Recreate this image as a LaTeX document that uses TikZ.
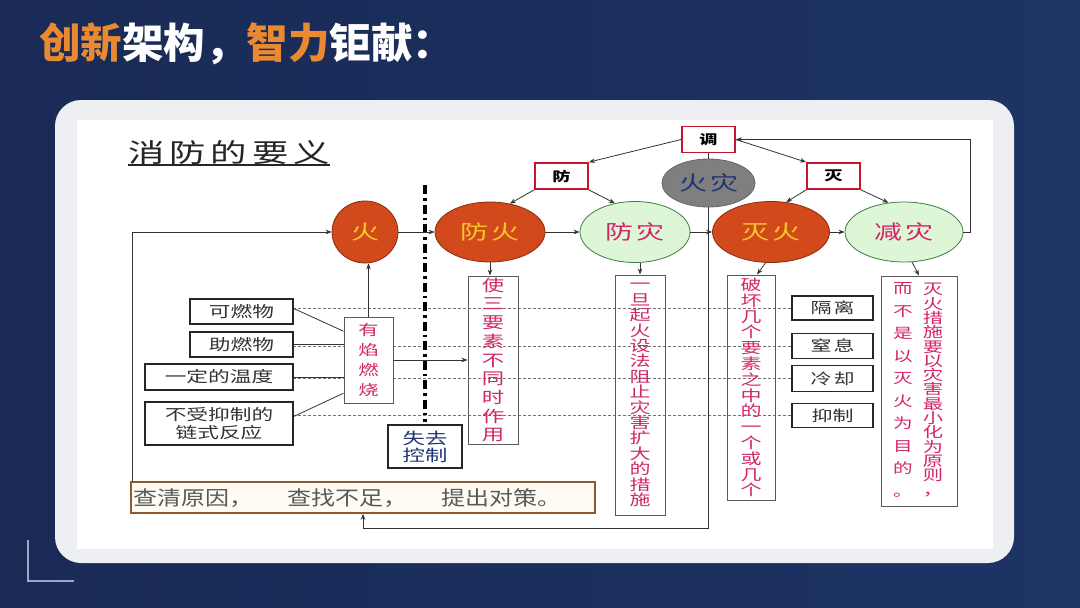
\documentclass[tikz,border=0pt]{standalone}
\usepackage{fontspec}
\usetikzlibrary{shapes.geometric,arrows.meta,calc}
\newfontfamily\cjk{Noto Sans CJK SC}
\newfontfamily\dg[FakeStretch=1.4]{Noto Sans CJK SC}
\newfontfamily\dgn[FakeStretch=1.2]{Noto Sans CJK SC}
\pgfdeclarelayer{bg}
\pgfdeclarelayer{back}
\pgfsetlayers{bg,back,main}
\definecolor{navyl}{HTML}{192A55}
\definecolor{navyr}{HTML}{1D3465}
\definecolor{orng}{HTML}{E98A32}
\definecolor{fire}{HTML}{D2491B}
\definecolor{fireb}{HTML}{8A2C0E}
\definecolor{ylw}{HTML}{F8C52A}
\definecolor{lgreen}{HTML}{DDF6D6}
\definecolor{dgreen}{HTML}{3E7D46}
\definecolor{pnk}{HTML}{D2266A}
\definecolor{redb}{HTML}{C4152F}
\definecolor{ink}{HTML}{333333}
\definecolor{tnavy}{HTML}{1F3573}
\definecolor{cardc}{HTML}{EEEFF2}
\definecolor{brownb}{HTML}{8C5A2E}
\definecolor{cream}{HTML}{FFFAF2}
\definecolor{grayfill}{HTML}{7F7F7F}
\definecolor{cornerc}{HTML}{9AA8C8}
\tikzset{
 conn/.style={draw=ink, line width=0.8pt, -{Stealth[length=6pt,width=4.5pt]}},
 plain/.style={draw=ink, line width=0.8pt},
 dsh/.style={draw=black!55, line width=0.7pt, dash pattern=on 3pt off 2pt},
 divider/.style={draw=black, line width=3.5pt, dash pattern=on 9pt off 4pt on 2.5pt off 4pt},
 fireell/.style={ellipse, draw=fireb, line width=0.8pt, fill=fire, text=ylw, inner sep=0pt, font=\dg\fontsize{20}{22}\selectfont},
 greenell/.style={ellipse, draw=dgreen, line width=0.8pt, fill=lgreen, text=pnk, inner sep=0pt, font=\dg\fontsize{20}{22}\selectfont},
 grayell/.style={ellipse, draw=black!60, line width=0.8pt, fill=grayfill, text=tnavy, inner sep=0pt, font=\dg\fontsize{20}{22}\selectfont},
 redbox/.style={rectangle, draw=redb, line width=1.8pt, fill=white, inner sep=0pt, minimum width=53pt, minimum height=26pt, font=\dg\bfseries\fontsize{13}{15}\selectfont},
 lbox/.style={rectangle, draw=black!85, line width=1.4pt, fill=white, inner sep=0pt, align=center, text=black!80, font=\dg\fontsize{15.5}{18}\selectfont},
 rbox/.style={rectangle, draw=black!85, line width=1.4pt, fill=white, inner sep=0pt, minimum width=81pt, text=black!80, font=\dg\fontsize{15}{17}\selectfont},
 vbox/.style={rectangle, draw=black!65, line width=1pt, inner sep=0pt, align=center, text=pnk},
}
\begin{document}
\begin{tikzpicture}[x=1pt,y=-1pt]
\useasboundingbox (0,0) rectangle (1080,608);
\begin{pgfonlayer}{bg}
 \shade[left color=navyl, right color=navyr] (0,0) rectangle (1080,608);
 \fill[cardc, rounded corners=26pt] (55,100) rectangle (1014,563);
 \fill[white] (77,120) rectangle (993,549);
 \draw[cornerc, line width=1.2pt] (28,540) -- (28,581) -- (74,581);
\end{pgfonlayer}

% slide title
\node[anchor=base west, inner sep=0pt, text=white, font=\cjk\bfseries\fontsize{41.5}{44}\selectfont] (title) at (39,58)
 {\textcolor{orng}{创新}架构，\textcolor{orng}{智力}钜献：};

% diagram title
\node[anchor=south west, inner sep=0pt, text=black!85, font=\dg\fontsize{26}{28}\selectfont] (yaoyi) at (128,165)
 {消\hspace{5pt}防\hspace{5pt}的\hspace{5pt}要\hspace{5pt}义};
\draw[black!85, line width=1.3pt] (yaoyi.south west) -- (yaoyi.south east);

% top boxes
\node[redbox] (diao) at (708.5,139.5) {调};
\node[redbox] (fang) at (561.5,176) {防};
\node[redbox] (mie) at (833.5,176) {灭};

% ellipses
\node[fireell, minimum width=66pt, minimum height=62pt] (huo) at (365,232) {火};
\node[fireell, minimum width=110pt, minimum height=60pt] (fanghuo) at (490,232) {防\hspace{3pt}火};
\node[greenell, minimum width=110pt, minimum height=61pt] (fangzai) at (635,232) {防\hspace{3pt}灾};
\node[grayell, minimum width=93pt, minimum height=48pt] (huozai) at (708.5,183) {火\hspace{3pt}灾};
\node[fireell, minimum width=117pt, minimum height=61pt] (miehuo) at (771,232) {灭\hspace{3pt}火};
\node[greenell, minimum width=118pt, minimum height=60pt] (jianzai) at (904,232) {减\hspace{3pt}灾};

% left boxes
\node[lbox, minimum width=103pt, minimum height=25pt] (kezhe) at (241.5,311.5) {可燃物};
\node[lbox, minimum width=103pt, minimum height=25pt] (zhuran) at (241.5,344.5) {助燃物};
\node[lbox, minimum width=148pt, minimum height=26pt] (wendu) at (219,377) {一定的温度};
\node[lbox, minimum width=148pt, minimum height=43pt] (lianshi) at (219,423.5) {不受抑制的\\链式反应};

% right boxes
\node[rbox, minimum height=24pt] (geli) at (832.5,308) {隔\hspace{2pt}离};
\node[rbox, minimum height=25pt] (zhixi) at (832.5,346) {窒\hspace{2pt}息};
\node[rbox, minimum height=26pt] (lengque) at (832.5,378.5) {冷\hspace{2pt}却};
\node[rbox, minimum height=24pt] (yizhi) at (832.5,415.5) {抑制};

% vertical text boxes
\node[vbox, fill=white, minimum width=49pt, minimum height=86pt, font=\dg\fontsize{14.5}{20}\selectfont] (youyan) at (368.5,360) {有\\焰\\燃\\烧};
\node[vbox, minimum width=50pt, minimum height=168pt, font=\dg\fontsize{16}{18.7}\selectfont] (shisan) at (493,360)
 {使\\三\\要\\素\\不\\同\\时\\作\\用};
\node[vbox, minimum width=50pt, minimum height=240pt, font=\dg\fontsize{15}{15.4}\selectfont] (yidan) at (640,395)
 {一\\旦\\起\\火\\设\\法\\阻\\止\\灾\\害\\扩\\大\\的\\措\\施};
\node[vbox, minimum width=48pt, minimum height=225pt, font=\dg\fontsize{15}{15.8}\selectfont] (pohuai) at (751,387.5)
 {破\\坏\\几\\个\\要\\素\\之\\中\\的\\一\\个\\或\\几\\个};
\node[vbox, minimum width=76pt, minimum height=230pt] (cuoshi) at (919,391) {};
\node[inner sep=0pt, align=center, text=pnk, font=\dg\fontsize{14.5}{14.3}\selectfont] (colR) at (933,390)
 {灭\\火\\措\\施\\要\\以\\灾\\害\\最\\小\\化\\为\\原\\则\\，};
\node[inner sep=0pt, align=center, text=pnk, font=\dg\fontsize{14}{22.5}\selectfont] (colL) at (903,390)
 {而\\不\\是\\以\\灭\\火\\为\\目\\的\\。};

% lose control box
\node[rectangle, draw=black!85, line width=1.4pt, fill=white, inner sep=0pt, minimum width=74pt, minimum height=43pt, align=center, text=tnavy, font=\dg\fontsize{16}{17}\selectfont] (shiqu) at (425,446.5) {失去\\控制};

% review box
\node[rectangle, draw=brownb, line width=1.5pt, fill=cream, minimum width=464pt, minimum height=31pt, inner sep=0pt] (chaqing) at (363,497.5) {};
\node[anchor=west, inner sep=0pt, text=black!65, font=\dgn\fontsize{20}{22}\selectfont] (chaqingtxt) at (133,498)
 {查清原因，\hspace{34pt}查找不足，\hspace{34pt}提出对策。};

% dashed guide lines and divider
\begin{pgfonlayer}{back}
 \draw[dsh] (geli.west) -- (geli.west -| kezhe.east);
 \draw[dsh] (zhixi.west) -- (zhixi.west -| zhuran.east);
 \draw[dsh] (lengque.west) -- (lengque.west -| wendu.east);
 \draw[dsh] (yizhi.west) -- (yizhi.west -| lianshi.east);
 \coordinate (divtop) at (425,185);
 \coordinate (divbot) at (425,422);
 \draw[divider] (divtop) -- (divbot);
\end{pgfonlayer}

% connectors: top tree
\draw[conn] (diao.west) -- (fang.north east);
\draw[conn] (diao.east) -- (mie.north west);
\draw[plain] (diao.south) -- (huozai.north);
\draw[conn] (fang.south west) -- (fanghuo.55);
\draw[conn] (fang.south east) -- (fangzai.125);
\draw[conn] (mie.south west) -- (miehuo.63);
\draw[conn] (mie.south east) -- (jianzai.118);

% main chain
\draw[conn] (huo.east) -- (fanghuo.west);
\draw[conn] (fanghuo.east) -- (fangzai.west);
\draw[conn] (fangzai.east) -- (miehuo.west);
\draw[conn] (miehuo.east) -- (jianzai.west);

% down arrows to boxes
\draw[conn] (fanghuo.south) -- (shisan.north -| fanghuo.south);
\draw[conn] (fangzai.south -| yidan.north) -- (yidan.north);
\draw[conn] (miehuo.260) -- ([xshift=6pt]pohuai.north);
\draw[conn] (jianzai.285) -- (cuoshi.north);

% feedback loops
\coordinate (rc) at (970,232);
\draw[conn] (jianzai.east) -- (rc) |- (diao.east);
\coordinate (bl) at (708.5,528);
\draw[conn] (huozai.south) -- (bl) -| (chaqing.south);
\draw[conn] ([xshift=2pt]chaqing.north west) |- (huo.west);

% combustion elements
\draw[plain] ([yshift=3pt]kezhe.east) -- (youyan.131);
\draw[plain] (zhuran.east) -- (zhuran.east -| youyan.west);
\draw[plain] (wendu.east) -- (wendu.east -| youyan.west);
\draw[plain] ([yshift=7pt]lianshi.east) -- (youyan.233);
\draw[conn] (youyan.north) -- (youyan.north |- huo.south);
\draw[conn] (youyan.east) -- (shisan.west);
\end{tikzpicture}
\end{document}
